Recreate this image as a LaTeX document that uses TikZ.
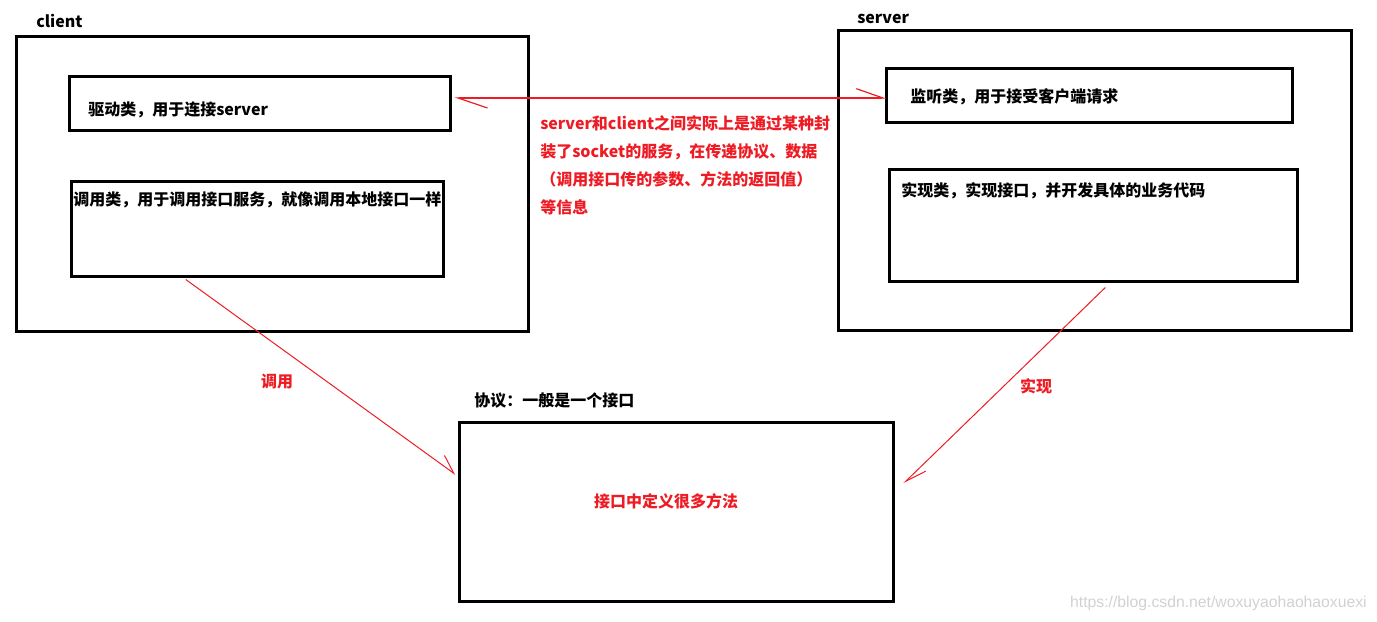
\documentclass[tikz,border=0pt]{standalone}
\usepackage{fontspec}
\setmainfont{Noto Sans CJK SC}
\newfontfamily\wmfont{Liberation Sans}
\usetikzlibrary{arrows.meta}
\usetikzlibrary{fit}
\usetikzlibrary{calc}
\definecolor{paintred}{RGB}{237,28,36}

\begin{document}
\begin{tikzpicture}[x=0.75pt,y=-0.75pt]

	\tikzset{box/.style = {draw,line width=2.25pt,inner sep=0pt}}
	\tikzset{txt/.style = {font=\fontsize{12}{14}\selectfont\bfseries,inner sep=0pt}}
	\tikzset{redtxt/.style = {txt,text=paintred}}
	\tikzset{link/.style = {draw=paintred,line width=0.75pt}}
	\useasboundingbox (0,0) rectangle (1377,621);
	% boxes
	\node[box,fit={(16,36) (528,331)}] (client) {};
	\node[box,fit={(69,76) (450,130)}] (driver) {};
	\node[box,fit={(71,181) (443,276)}] (caller) {};
	\node[box,fit={(838,30) (1351,330)}] (server) {};
	\node[box,fit={(886,68) (1292,122)}] (listener) {};
	\node[box,fit={(889,169) (1297,281)}] (impl) {};
	\node[box,fit={(459,422) (893,601)}] (proto) {};
	% texts
	\node[txt,anchor=west] (clienttxt) at (36,21) {client};
	\node[txt,anchor=west] (servertxt) at (857,19) {server};
	\node[txt,anchor=west] (drivertxt) at (88,110) {驱动类，用于连接server};
	\node[txt,anchor=west] (callertxt) at (73,200) {调用类，用于调用接口服务，就像调用本地接口一样};
	\node[txt,anchor=west] (listenertxt) at (910,97) {监听类，用于接受客户端请求};
	\node[txt,anchor=west] (impltxt) at (901,191) {实现类，实现接口，并开发具体的业务代码};
	\node[txt,anchor=west] (prototxt) at (474,401) {协议：一般是一个接口};
	\node[redtxt] (protoinner) at (666,501) {接口中定义很多方法};
	\node[redtxt,anchor=north west,align=left,font=\fontsize{12}{21}\selectfont\bfseries] (note) at (540,115)
		{server和client之间实际上是通过某种封\\装了socket的服务，在传递协议、数据\\（调用接口传的参数、方法的返回值）\\等信息};
	\node[redtxt] (calllbl) at (277,382) {调用};
	\node[redtxt] (impllbl) at (1036,386) {实现};
	\node[font=\wmfont\fontsize{11.8}{13}\selectfont,text=black!18,anchor=east,inner sep=0pt] (mark) at (1367,603)
		{https://blog.csdn.net/woxuyaohaohaoxuexi};
	% arrows
	\draw[link,line width=0.9pt,{Straight Barb[harpoon,length=22pt,width=15pt]}-{Straight Barb[harpoon,length=20pt,width=14pt]}]
		($(driver.east)+(3,-5)$) -- ($(listener.west)+(2,3)$);
	\draw[link,-{Straight Barb[harpoon,length=13.5pt,width=13.5pt]}]
		($(caller.south west)!0.31!(caller.south east)+(0,2)$) -- ($(proto.west)+(-2,-37)$);
	\draw[link,-{Straight Barb[harpoon,length=16pt,width=10pt]}]
		($(impl.south west)!0.53!(impl.south east)+(0,5)$) -- ($(proto.east)+(9,-28)$);
\end{tikzpicture}
\end{document}
